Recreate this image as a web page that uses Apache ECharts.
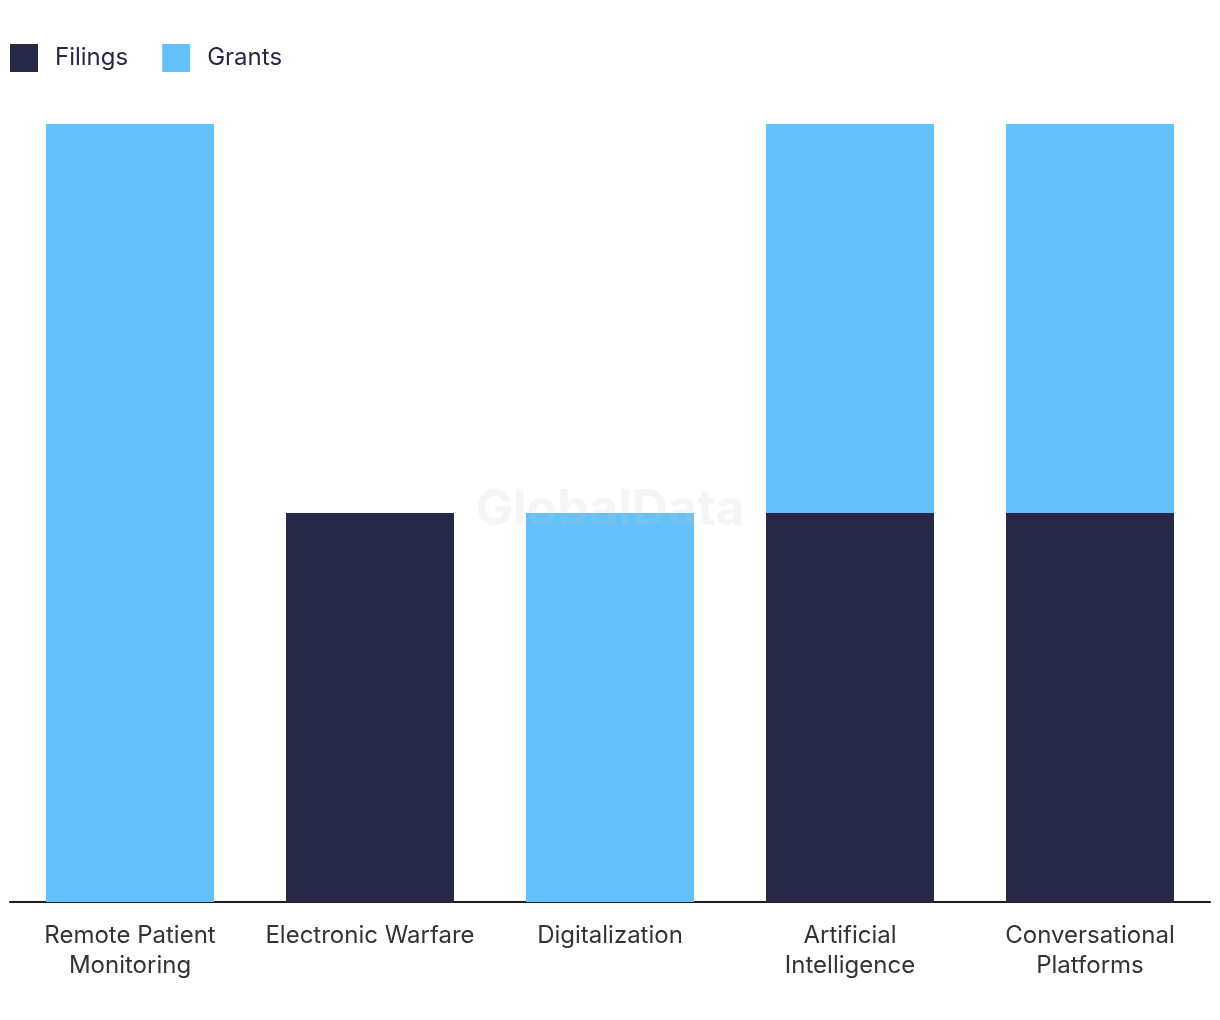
<!DOCTYPE html>
<html>
<head>
<meta charset="utf-8">
<script src="https://cdn.jsdelivr.net/npm/echarts@6/dist/echarts.min.js"></script>
<style>html,body{margin:0;padding:0;background:#fff}#c{width:1220px;height:1020px}</style>
</head>
<body>
<div id="c"></div>
<script>
var categories = ['Remote Patient\nMonitoring', 'Electronic Warfare', 'Digitalization', 'Artificial\nIntelligence', 'Conversational\nPlatforms'];
var filings = [0, 1, 0, 1, 1];
var grants = [2, 0, 1, 1, 1];

var chart = echarts.init(document.getElementById('c'));
chart.setOption({
  animation: false,
  textStyle: { fontFamily: 'Inter, "Noto Sans", sans-serif' },
  legend: {
    left: 10, top: 44, padding: 0, itemWidth: 28, itemHeight: 28, itemGap: 34,
    icon: 'rect',
    textStyle: { fontSize: 24, color: '#272848', padding: [2, 0, 0, 12] },
    data: ['Filings', 'Grants']
  },
  grid: { left: 10, right: 10, top: 124, bottom: 118, containLabel: false },
  xAxis: {
    type: 'category', data: categories,
    axisLine: { lineStyle: { color: '#1c1c30', width: 2 } },
    axisTick: { show: false },
    axisLabel: { fontSize: 24, color: '#333', lineHeight: 30, margin: 19, interval: 0 }
  },
  yAxis: { type: 'value', min: 0, max: 2, show: false, splitLine: { show: false } },
  series: [
    { name: 'Filings', type: 'bar', stack: 'a', data: filings, barWidth: '70%', itemStyle: { color: '#272848' } },
    { name: 'Grants', type: 'bar', stack: 'a', data: grants, barWidth: '70%', itemStyle: { color: '#62C1F9' } }
  ],
  graphic: [{
    type: 'text', left: 'center', top: 485, z: 100,
    style: { text: 'GlobalData', fontSize: 50, fontWeight: 'bold', fontFamily: 'Inter, sans-serif', fill: 'rgba(200,200,200,0.18)' }
  }]
});
</script>
</body>
</html>
